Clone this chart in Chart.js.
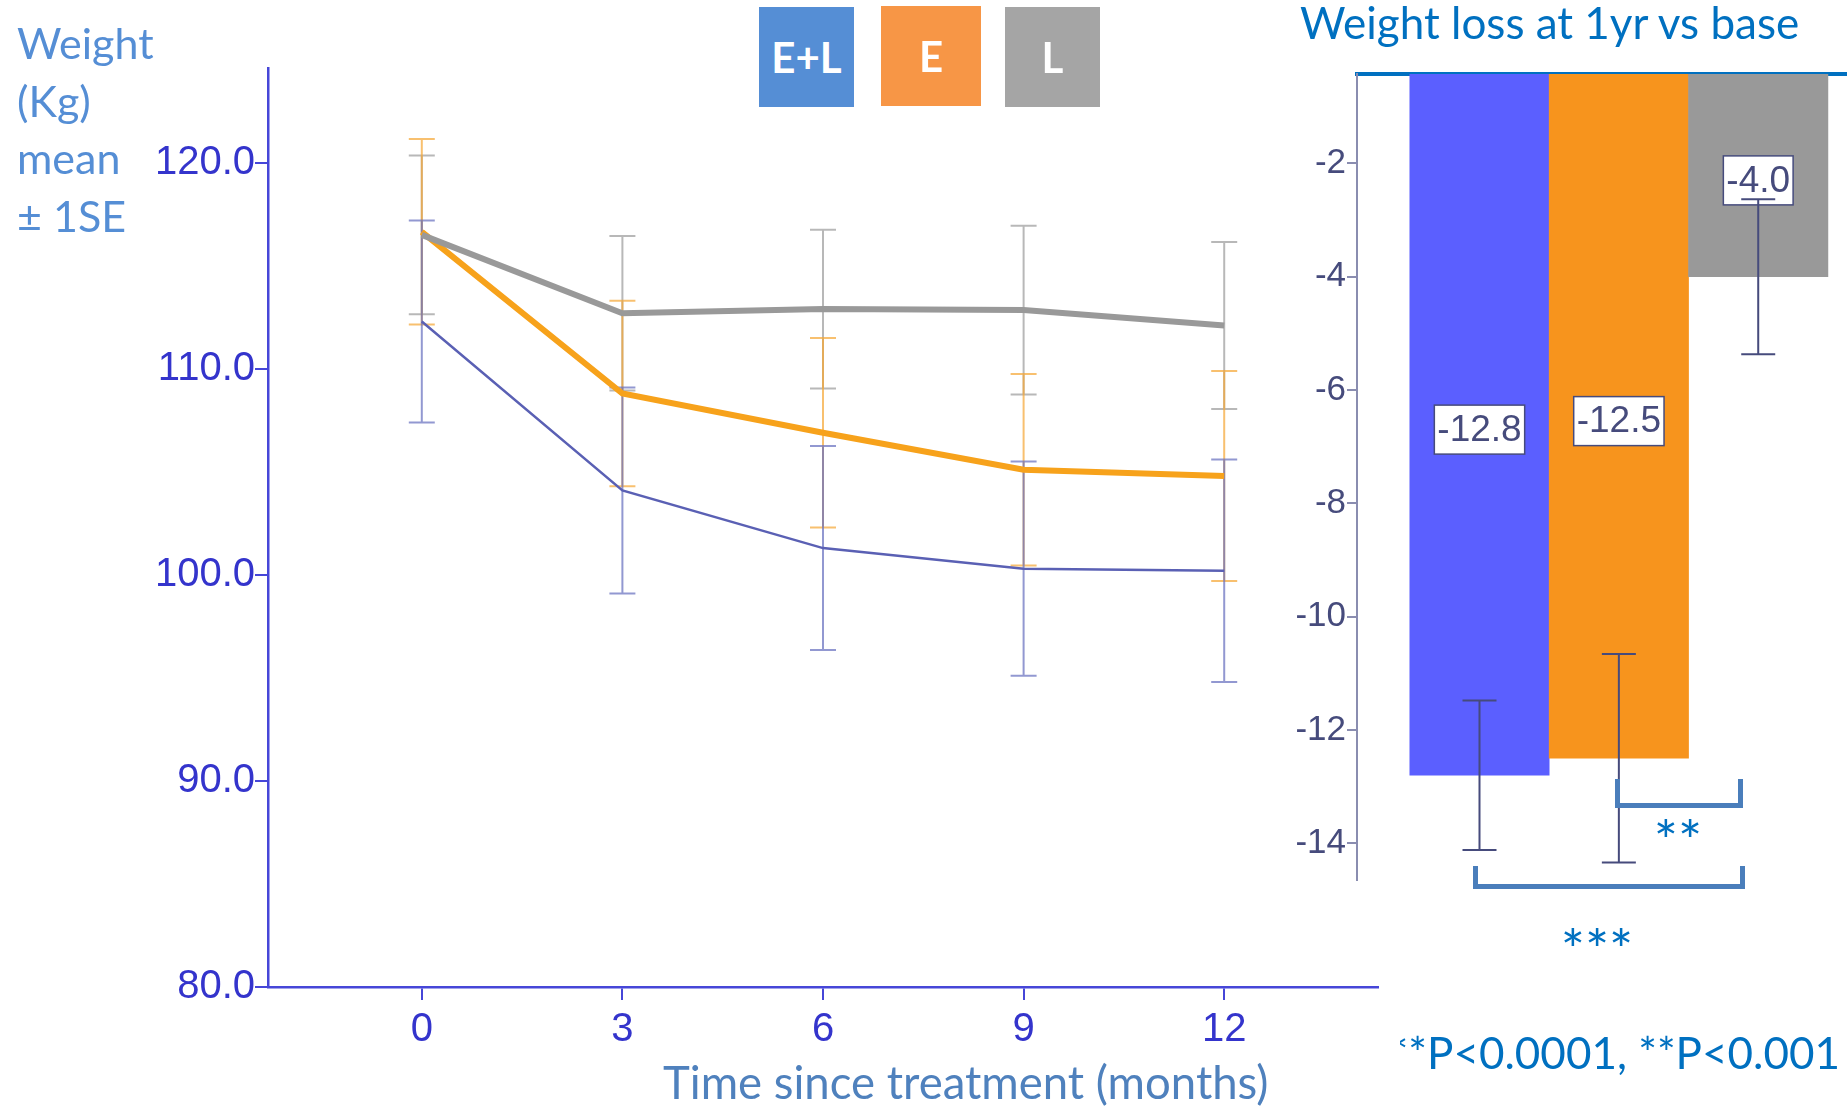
<!DOCTYPE html>
<html>
<head>
<meta charset="utf-8">
<script src="https://cdn.jsdelivr.net/npm/chart.js@4.4.1/dist/chart.umd.min.js"></script>
<style>
	html, body { margin: 0; padding: 0; background: #fff; }
	body { width: 1847px; height: 1106px; position: relative; overflow: hidden; font-family: Lato, 'Open Sans', sans-serif; }
	#lineWrap { position: absolute; left: 0; top: 0; width: 1400px; height: 1106px; }
	#barWrap { position: absolute; left: 1280px; top: 0; width: 567px; height: 1106px; }
	.txt { position: absolute; white-space: nowrap; }
	.key { position: absolute; color: #fff; font-weight: bold; font-size: 42px; display: flex; align-items: center; justify-content: center; }
	.bracket { position: absolute; border: 5px solid #4a7ebb; border-top: none; box-sizing: border-box; }
</style>
</head>
<body>
<div id="lineWrap"><canvas id="lineChart"></canvas></div>
<div id="barWrap"><canvas id="barChart"></canvas></div>

<div class="txt" style="left:17px; top:14px; font-size:43px; line-height:57.5px; color:#558ed5;">Weight<br>(Kg)<br>mean<br>± 1SE</div>

<div class="key" style="left:759px; top:7px; width:95px; height:100px; background:#558ed5;">E+L</div>
<div class="key" style="left:881px; top:6px; width:100px; height:100px; background:#f79646;">E</div>
<div class="key" style="left:1005px; top:7px; width:95px; height:100px; background:#a5a5a5;">L</div>

<div class="txt" style="left:1300px; top:-4px; font-size:44px; color:#0070c0;">Weight loss at 1yr vs base</div>
<div class="txt" style="left:663px; top:1054px; font-size:45.5px; color:#4f81bd;">Time since treatment (months)</div>

<div class="bracket" style="left:1615px; top:779px; width:128px; height:29px;"></div>
<div class="bracket" style="left:1473px; top:866px; width:272px; height:23px;"></div>
<div class="txt" style="left:1678px; top:833px; font-size:57px; line-height:57px; color:#0070c0; transform:translate(-50%, -38%);">**</div>
<div class="txt" style="left:1597px; top:942px; font-size:57px; line-height:57px; color:#0070c0; transform:translate(-50%, -38%);">***</div>

<div style="position:absolute; left:1400px; top:1026px; width:440px; height:70px; overflow:hidden;">
	<div class="txt" style="right:0; top:0; font-size:44px; color:#0070c0;">***P&lt;0.0001, **P&lt;0.001</div>
</div>

<script>
	'use strict'

	// Data
	const months = [0, 3, 6, 9, 12]
	const groups = ['E+L', 'E', 'L']
	const weightEL = [112.3, 104.1, 101.3, 100.3, 100.2]
	const seEL = [4.9, 5.0, 4.95, 5.2, 5.4]
	const weightE = [116.65, 108.8, 106.9, 105.1, 104.8]
	const seE = [4.5, 4.5, 4.6, 4.65, 5.1]
	const weightL = [116.5, 112.7, 112.9, 112.85, 112.1]
	const seL = [3.85, 3.75, 3.85, 4.1, 4.05]
	const weightTicks = [80, 90, 100, 110, 120]

	const lossAt1yr = [-12.8, -12.5, -4.0]
	const lossSE = [1.32, 1.84, 1.37]
	const lossTicks = [-2, -4, -6, -8, -10, -12, -14]

	const axisBlue = '#4646d8'
	const tickBlue = '#3434cc'
	const slate = '#464b7c'

	const pts = (ys) => months.map((m, i) => ({ x: m, y: ys[i] }))

	// error bars drawn from each point's value +/- err, through the y scale
	function drawErrors(chart, cap) {
		const ctx = chart.ctx
		chart.data.datasets.forEach((ds, i) => {
			const meta = chart.getDatasetMeta(i)
			const yScale = meta.yScale
			ctx.save()
			ctx.lineWidth = 2
			ctx.strokeStyle = ds.errColor
			meta.data.forEach((el, j) => {
				const v = ds.data[j].y
				const e = ds.err[j]
				const top = yScale.getPixelForValue(v + e)
				const bot = yScale.getPixelForValue(v - e)
				const x = el.x
				const w = cap / 2
				ctx.beginPath()
				ctx.moveTo(x, top); ctx.lineTo(x, bot)
				ctx.moveTo(x - w, top); ctx.lineTo(x + w, top)
				ctx.moveTo(x - w, bot); ctx.lineTo(x + w, bot)
				ctx.stroke()
			})
			ctx.restore()
		})
	}

	const errorBars = {
		id: 'errorBars',
		beforeDatasetsDraw(chart) {
			drawErrors(chart, 26)
		}
	}

	// boxed value labels centred in the visible part of each bar (below the top rule)
	const barLabels = {
		id: 'barLabels',
		afterDatasetsDraw(chart) {
			const ctx = chart.ctx
			const area = chart.chartArea
			const meta = chart.getDatasetMeta(0)
			ctx.save()
			ctx.font = '37px "Liberation Sans", Arial, sans-serif'
			ctx.textAlign = 'center'
			ctx.textBaseline = 'middle'
			meta.data.forEach((bar, j) => {
				const top = Math.max(Math.min(bar.base, bar.y), area.top + 10)
				const cy = (top + bar.y) / 2
				const txt = lossAt1yr[j].toFixed(1)
				const w = ctx.measureText(txt).width + 6
				const h = 49
				ctx.fillStyle = '#fff'
				ctx.fillRect(bar.x - w / 2, cy - h / 2, w, h)
				ctx.strokeStyle = slate
				ctx.lineWidth = 1.5
				ctx.strokeRect(bar.x - w / 2, cy - h / 2, w, h)
				ctx.fillStyle = slate
				ctx.fillText(txt, bar.x, cy + 1)
			})
			ctx.restore()
			drawErrors(chart, 34)
		}
	}

	const tickFont = { family: '"Liberation Sans", Arial, sans-serif', size: 40 }

	new Chart(document.getElementById('lineChart'), {
		type: 'line',
		data: {
			datasets: [{
				label: 'L',
				data: pts(weightL),
				err: seL,
				errColor: 'rgba(160,160,160,0.75)',
				borderColor: '#999999',
				borderWidth: 6,
				pointRadius: 0,
				tension: 0
			}, {
				label: 'E',
				data: pts(weightE),
				err: seE,
				errColor: 'rgba(245,165,50,0.7)',
				borderColor: '#f7a21b',
				borderWidth: 6,
				pointRadius: 0,
				tension: 0
			}, {
				label: 'E+L',
				data: pts(weightEL),
				err: seEL,
				errColor: 'rgba(100,108,190,0.7)',
				borderColor: '#5a60b4',
				borderWidth: 2.5,
				pointRadius: 0,
				tension: 0
			}]
		},
		options: {
			responsive: true,
			maintainAspectRatio: false,
			animation: false,
			layout: { padding: { top: 68, right: 22, left: 0, bottom: 0 } },
			plugins: {
				legend: { display: false },
				tooltip: { enabled: false }
			},
			scales: {
				x: {
					type: 'linear',
					min: -2.3,
					max: 14.3,
					afterFit: (s) => { s.height = 119 },
					afterBuildTicks: (s) => { s.ticks = months.map(v => ({ value: v })) },
					ticks: { font: tickFont, color: tickBlue, padding: 6, maxRotation: 0 },
					grid: { drawOnChartArea: false, drawTicks: true, tickLength: 13, color: axisBlue, lineWidth: 2 },
					border: { display: true, color: axisBlue, width: 2.5 }
				},
				y: {
					min: 80,
					max: 124.6,
					afterFit: (s) => { s.width = 268 },
					afterBuildTicks: (s) => { s.ticks = weightTicks.map(v => ({ value: v })) },
					ticks: { font: tickFont, color: tickBlue, padding: 0, callback: (v) => v.toFixed(1) },
					grid: { drawOnChartArea: false, drawTicks: true, tickLength: 13, color: axisBlue, lineWidth: 2 },
					border: { display: true, color: axisBlue, width: 2.5 }
				}
			}
		},
		plugins: [errorBars]
	})

	new Chart(document.getElementById('barChart'), {
		type: 'bar',
		data: {
			datasets: [{
				label: 'Weight loss at 1yr vs base',
				data: groups.map((g, i) => ({ x: i, y: lossAt1yr[i] })),
				err: lossSE,
				errColor: slate,
				backgroundColor: ['#5b5fff', '#f7941d', '#999999'],
				borderWidth: 0,
				barPercentage: 1,
				categoryPercentage: 1,
				clip: 0
			}]
		},
		options: {
			responsive: true,
			maintainAspectRatio: false,
			animation: false,
			layout: { padding: { top: 74, right: 0, left: 0, bottom: 226 } },
			plugins: {
				legend: { display: false },
				tooltip: { enabled: false }
			},
			scales: {
				x: {
					type: 'linear',
					position: 'top',
					offset: false,
					min: -0.879,
					max: 2.637,
					afterFit: (s) => { s.height = 0 },
					afterBuildTicks: (s) => { s.ticks = groups.map((g, i) => ({ value: i })) },
					ticks: { display: false },
					grid: { display: false, offset: false },
					border: { display: true, color: '#0070c0', width: 4 }
				},
				y: {
					min: -14.65,
					max: -0.42,
					afterFit: (s) => { s.width = 77 },
					afterBuildTicks: (s) => { s.ticks = lossTicks.map(v => ({ value: v })) },
					ticks: { font: { family: '"Liberation Sans", Arial, sans-serif', size: 35 }, color: slate, padding: 1 },
					grid: { drawOnChartArea: false, drawTicks: true, tickLength: 10, color: '#8a8db0', lineWidth: 2 },
					border: { display: true, color: '#8a8db0', width: 2 }
				}
			}
		},
		plugins: [barLabels]
	})
</script>
</body>
</html>
